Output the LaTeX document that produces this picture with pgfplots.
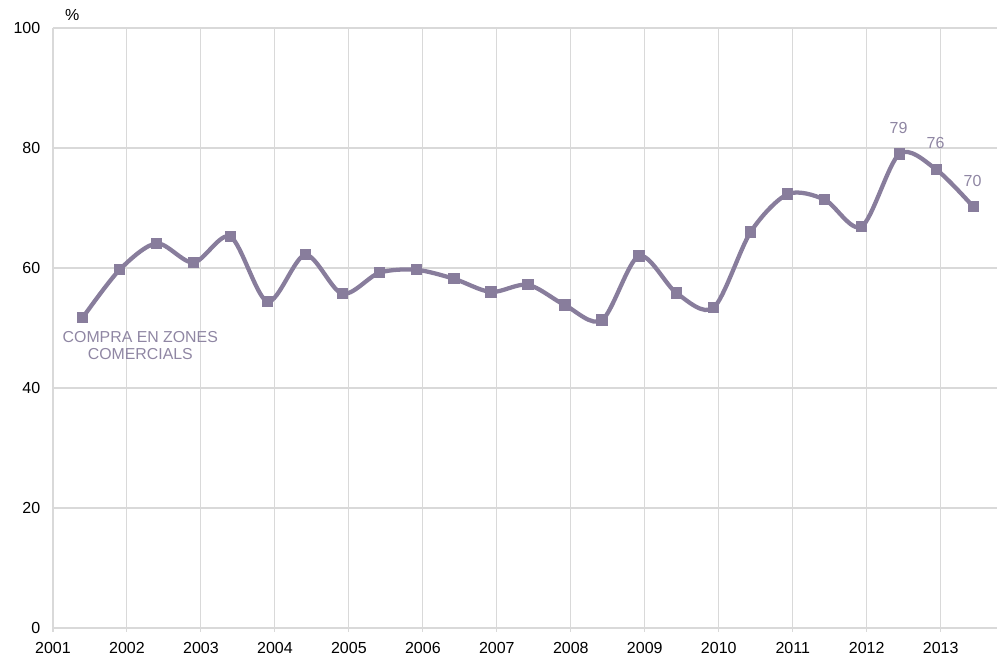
\documentclass[border=0pt]{standalone}
\usepackage{fontspec}
\setmainfont{Liberation Sans}
\usepackage{pgfplots}
\pgfplotsset{compat=1.18}
\definecolor{linea}{HTML}{887D9C}
\definecolor{etiq}{HTML}{8F86A3}
\definecolor{graella}{HTML}{D9D9D9}
\begin{document}
\begin{tikzpicture}
\useasboundingbox (-39.75pt,-21pt) rectangle (710.25pt,471pt);
\begin{axis}[
  scale only axis, width=708pt, height=450pt,
  xmin=2001, xmax=2013.76, ymin=0, ymax=100,
  xtick={2001,...,2013}, minor x tick num=3,
  ytick={0,20,...,100},
  /pgf/number format/1000 sep={},
  /pgf/number format/assume math mode=true,
  ticklabel style={font=\fontsize{12}{14}\selectfont, text=black},
  grid=major, major grid style={draw=graella, line width=0.8pt},
  y axis line style={draw=none},
  x axis line style={draw=graella, line width=0.8pt},
  xtick pos=left, ytick pos=left,
  tick align=outside,
  xtick style={draw=graella, line width=0.8pt},
  major tick length=3pt, minor tick length=3pt,
  ytick style={draw=none},
  y tick label style={xshift=-3pt},
  x tick label style={yshift=-4.5pt},
  clip=false]
\addplot[color=linea, line width=3.2pt, smooth, mark=square*, mark size=3.9pt,
  mark options={fill=linea, line width=0pt}]
  coordinates{
  (2001.40,51.7)(2001.90,59.7)(2002.40,64.1)(2002.90,60.9)(2003.40,65.2)
  (2003.90,54.4)(2004.41,62.2)(2004.91,55.7)(2005.41,59.2)(2005.91,59.7)
  (2006.42,58.2)(2006.92,56.0)(2007.42,57.2)(2007.92,53.8)(2008.42,51.3)
  (2008.92,62.0)(2009.43,55.8)(2009.93,53.4)(2010.43,66.0)(2010.93,72.3)
  (2011.43,71.4)(2011.93,66.9)(2012.44,79.0)(2012.94,76.4)(2013.44,70.2)};
\node[text=etiq, align=center, font=\fontsize{11.9}{12.75}\selectfont]
  at (axis cs:2002.18,47.1) {COMPRA EN ZONES\\COMERCIALS};
\node[text=etiq, font=\fontsize{12}{14}\selectfont] at (axis cs:2012.43,83.3) {79};
\node[text=etiq, font=\fontsize{12}{14}\selectfont] at (axis cs:2012.93,80.8) {76};
\node[text=etiq, font=\fontsize{12}{14}\selectfont] at (axis cs:2013.43,74.5) {70};
\node[font=\fontsize{12}{14}\selectfont] at (axis cs:2001.26,102.2) {\%};
\end{axis}
\end{tikzpicture}
\end{document}
